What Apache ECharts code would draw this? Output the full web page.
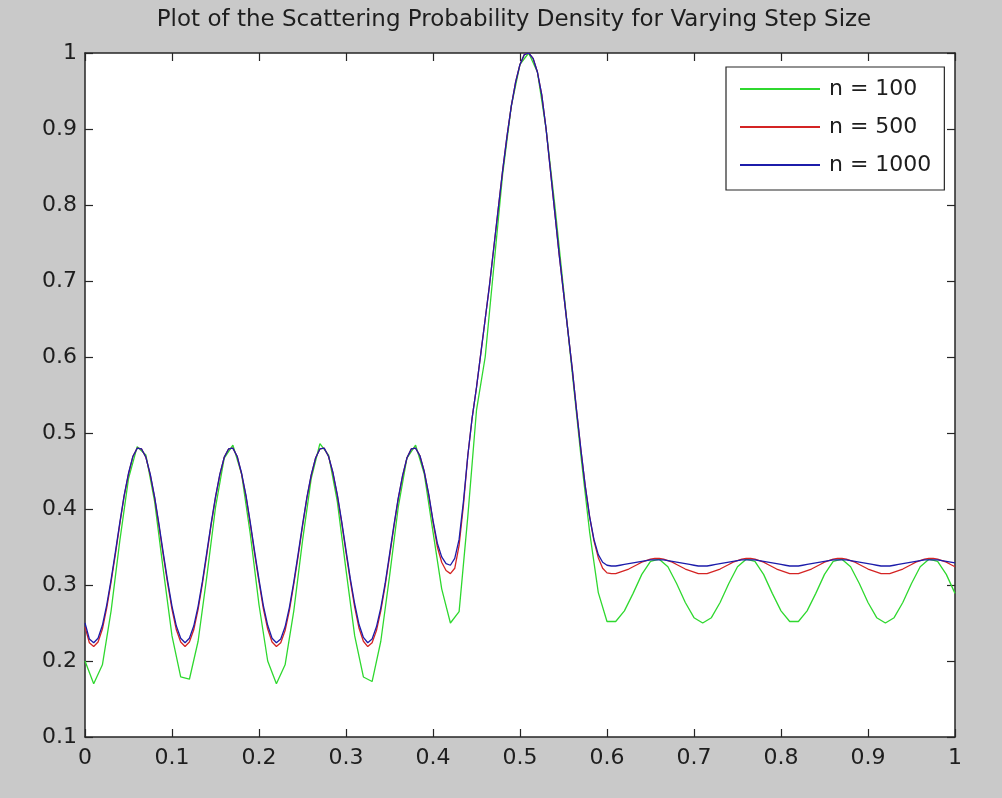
<!DOCTYPE html>
<html>
<head>
<meta charset="utf-8">
<script src="https://cdn.jsdelivr.net/npm/echarts@6/dist/echarts.min.js"></script>
<style>
html,body{margin:0;padding:0;background:#c9c9c9;}
#chart{width:1002px;height:798px;}
</style>
</head>
<body>
<div id="chart"></div>
<script>
// ---- data ----
const titleText = 'Plot of the Scattering Probability Density for Varying Step Size';
const seriesNames = ['n = 100', 'n = 500', 'n = 1000'];
const xTicks = [0, 0.1, 0.2, 0.3, 0.4, 0.5, 0.6, 0.7, 0.8, 0.9, 1];
const yTicks = [0.1, 0.2, 0.3, 0.4, 0.5, 0.6, 0.7, 0.8, 0.9, 1];

// n = 100 : sampled every 0.01 from 0 to 1
const xStepN100 = 0.01;
const n100 = [
  0.200,0.170,0.195,0.266,0.358,0.440,0.482,0.471,0.410,0.320,
  0.233,0.179,0.176,0.226,0.311,0.402,0.467,0.484,0.446,0.367,
  0.274,0.200,0.170,0.195,0.266,0.358,0.440,0.486,0.471,0.410,
  0.320,0.233,0.179,0.173,0.226,0.311,0.402,0.467,0.484,0.446,
  0.370,0.295,0.250,0.265,0.390,0.530,0.600,0.720,0.840,0.930,
  0.985,1.000,0.975,0.900,0.800,0.690,0.580,0.470,0.370,0.290,
  0.252,0.252,0.266,0.289,0.314,0.331,0.334,0.324,0.302,0.277,
  0.257,0.250,0.257,0.277,0.302,0.324,0.334,0.331,0.314,0.289,
  0.266,0.252,0.252,0.266,0.289,0.314,0.331,0.334,0.324,0.302,
  0.277,0.257,0.250,0.257,0.277,0.302,0.324,0.334,0.331,0.314,
  0.289
];

// n = 500 and n = 1000 : read every 0.005 from 0 to 1
const xStepFine = 0.005;
const n500 = [
  0.245,0.224,0.219,0.225,0.242,0.270,0.304,0.341,0.380,0.417,
  0.446,0.469,0.480,0.479,0.468,0.445,0.415,0.378,0.339,0.302,
  0.268,0.241,0.225,0.219,0.225,0.241,0.268,0.302,0.340,0.379,
  0.415,0.445,0.468,0.479,0.480,0.469,0.446,0.417,0.380,0.341,
  0.304,0.269,0.242,0.225,0.219,0.224,0.240,0.267,0.301,0.338,
  0.377,0.414,0.444,0.467,0.479,0.480,0.469,0.447,0.418,0.382,
  0.343,0.305,0.271,0.243,0.226,0.219,0.224,0.240,0.266,0.299,
  0.337,0.376,0.413,0.443,0.467,0.479,0.480,0.470,0.449,0.419,
  0.383,
  0.350,0.330,0.319,0.315,0.322,0.352,0.405,0.470,0.520,0.560,
  0.605,0.650,0.695,0.745,0.795,0.845,0.890,0.930,0.962,0.985,
  0.998,1.000,0.993,0.975,0.945,0.900,0.845,0.790,0.735,0.685,
  0.635,0.585,0.530,0.478,0.430,0.390,0.358,0.336,0.322,0.316,
  0.315,0.315,0.317,0.319,0.321,0.324,0.327,0.330,0.332,0.334,0.335,0.335,0.334,0.332,0.330,0.327,0.324,0.321,0.319,0.317,0.315,
  0.315,0.315,0.317,0.319,0.321,0.324,0.327,0.330,0.332,0.334,0.335,0.335,0.334,0.332,0.330,0.327,0.324,0.321,0.319,0.317,0.315,
  0.315,0.315,0.317,0.319,0.321,0.324,0.327,0.330,0.332,0.334,0.335,0.335,0.334,0.332,0.330,0.327,0.324,0.321,0.319,0.317,0.315,
  0.315,0.315,0.317,0.319,0.321,0.324,0.327,0.330,0.332,0.334,0.335,0.335,0.334,0.332,0.330,0.327,0.324
];
const n1000 = [
  0.250,0.229,0.224,0.230,0.247,0.274,0.307,0.344,0.382,0.418,
  0.447,0.469,0.480,0.479,0.468,0.446,0.416,0.380,0.342,0.305,
  0.272,0.246,0.230,0.224,0.230,0.246,0.272,0.305,0.343,0.381,
  0.416,0.446,0.468,0.479,0.480,0.469,0.447,0.418,0.382,0.344,
  0.307,0.273,0.247,0.230,0.224,0.229,0.245,0.271,0.304,0.341,
  0.379,0.415,0.445,0.467,0.479,0.480,0.469,0.448,0.419,0.384,
  0.346,0.308,0.275,0.248,0.231,0.224,0.229,0.245,0.270,0.302,
  0.340,0.378,0.414,0.444,0.467,0.479,0.480,0.470,0.449,0.420,
  0.385,
  0.355,0.337,0.328,0.326,0.335,0.360,0.410,0.470,0.520,0.560,
  0.605,0.650,0.695,0.745,0.795,0.845,0.890,0.930,0.962,0.985,
  0.998,1.000,0.993,0.975,0.945,0.900,0.845,0.790,0.735,0.685,
  0.635,0.585,0.530,0.478,0.430,0.390,0.360,0.340,0.330,0.326,
  0.325,0.325,0.326,0.327,0.328,0.329,0.330,0.331,0.332,0.333,0.333,0.333,0.333,0.332,0.331,0.330,0.329,0.328,0.327,0.326,0.325,
  0.325,0.325,0.326,0.327,0.328,0.329,0.330,0.331,0.332,0.333,0.333,0.333,0.333,0.332,0.331,0.330,0.329,0.328,0.327,0.326,0.325,
  0.325,0.325,0.326,0.327,0.328,0.329,0.330,0.331,0.332,0.333,0.333,0.333,0.333,0.332,0.331,0.330,0.329,0.328,0.327,0.326,0.325,
  0.325,0.325,0.326,0.327,0.328,0.329,0.330,0.331,0.332,0.333,0.333,0.333,0.333,0.332,0.331,0.330,0.329
];

// ---- chart ----
function toPairs(arr, step) {
  return arr.map((v, i) => [Math.round(i * step * 1000) / 1000, v]);
}
const FONT = 'DejaVu Sans';
const INK = '#262626';
const chart = echarts.init(document.getElementById('chart'), null, {renderer: 'canvas'});

const axisCommon = {
  axisLine: {show: true, onZero: false, lineStyle: {color: INK, width: 1.5}},
  axisTick: {show: true, inside: true, length: 8, lineStyle: {color: INK, width: 1.2}},
  splitLine: {show: false}
};

chart.setOption({
  animation: false,
  backgroundColor: '#c9c9c9',
  title: {
    text: titleText,
    left: 514,
    textAlign: 'center',
    top: 9,
    padding: 0,
    textStyle: {fontFamily: FONT, fontSize: 23, fontWeight: 'normal', color: '#1e1e1e'}
  },
  grid: {
    left: 85, right: 47, top: 53, bottom: 61,
    show: true, backgroundColor: '#ffffff', borderWidth: 0
  },
  legend: {
    orient: 'vertical',
    left: 726, top: 67,
    data: seriesNames,
    icon: 'rect',
    itemWidth: 80, itemHeight: 2,
    itemGap: 14,
    padding: [10, 13, 13, 14],
    backgroundColor: '#ffffff',
    borderColor: INK, borderWidth: 1.2, borderRadius: 0,
    textStyle: {fontFamily: FONT, fontSize: 22, color: '#1e1e1e', lineHeight: 24, padding: [0, 0, 0, 4]}
  },
  xAxis: [
    Object.assign({
      type: 'value', position: 'bottom', min: xTicks[0], max: xTicks[xTicks.length - 1], interval: 0.1,
      axisLabel: {show: true, margin: 10, fontFamily: FONT, fontSize: 22, color: '#1e1e1e'}
    }, axisCommon),
    Object.assign({
      type: 'value', position: 'top', min: xTicks[0], max: xTicks[xTicks.length - 1], interval: 0.1,
      axisLabel: {show: false}
    }, axisCommon)
  ],
  yAxis: [
    Object.assign({
      type: 'value', position: 'left', min: yTicks[0], max: yTicks[yTicks.length - 1], interval: 0.1,
      axisLabel: {show: true, margin: 8, fontFamily: FONT, fontSize: 22, color: '#1e1e1e'}
    }, axisCommon),
    Object.assign({
      type: 'value', position: 'right', min: yTicks[0], max: yTicks[yTicks.length - 1], interval: 0.1,
      axisLabel: {show: false}
    }, axisCommon)
  ],
  series: [
    {name: seriesNames[0], type: 'line', data: toPairs(n100, xStepN100), symbol: 'none',
     lineStyle: {color: '#2fd82f', width: 1.3}, itemStyle: {color: '#2fd82f'}},
    {name: seriesNames[1], type: 'line', data: toPairs(n500, xStepFine), symbol: 'none', smooth: false,
     lineStyle: {color: '#d42424', width: 1.3}, itemStyle: {color: '#d42424'}},
    {name: seriesNames[2], type: 'line', data: toPairs(n1000, xStepFine), symbol: 'none', smooth: false,
     lineStyle: {color: '#1c1caa', width: 1.3}, itemStyle: {color: '#1c1caa'}}
  ]
});
</script>
</body>
</html>
